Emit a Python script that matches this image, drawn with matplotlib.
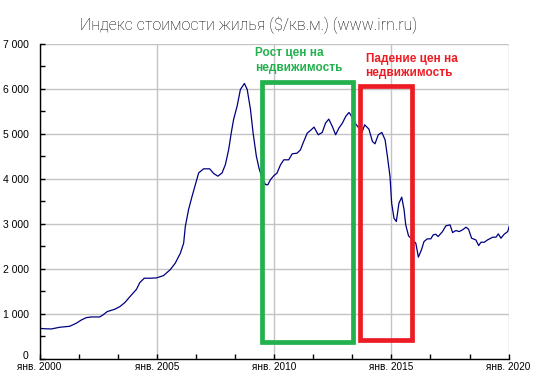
import matplotlib
matplotlib.use("Agg")
import matplotlib.pyplot as plt
from matplotlib.ticker import MultipleLocator, FuncFormatter
from matplotlib.patches import Rectangle

# ---- data ----
years = [2000.00, 2000.25, 2000.50, 2000.85, 2001.28, 2001.56, 2001.78, 2001.99, 2002.20, 2002.56,
         2002.70, 2002.88, 2003.20, 2003.42, 2003.63, 2003.85, 2004.13, 2004.27, 2004.46, 2004.70,
         2004.98, 2005.28, 2005.57, 2005.78, 2006.00, 2006.14, 2006.21, 2006.35, 2006.50, 2006.64,
         2006.78, 2006.99, 2007.25, 2007.42, 2007.60, 2007.78, 2007.92, 2008.06, 2008.17, 2008.27,
         2008.42, 2008.56, 2008.73, 2008.85, 2008.99, 2009.10, 2009.24, 2009.36, 2009.50, 2009.63,
         2009.73, 2009.84, 2009.98, 2010.12, 2010.27, 2010.41, 2010.62, 2010.77, 2010.98, 2011.12,
         2011.26, 2011.41, 2011.55, 2011.70, 2011.88, 2012.05, 2012.19, 2012.33, 2012.48, 2012.62,
         2012.76, 2012.91, 2013.05, 2013.19, 2013.26, 2013.47, 2013.75, 2013.86, 2014.04, 2014.19,
         2014.30, 2014.44, 2014.59, 2014.73, 2014.83, 2014.94, 2015.01, 2015.11, 2015.21, 2015.32,
         2015.44, 2015.54, 2015.61, 2015.73, 2015.90, 2016.04, 2016.15, 2016.28, 2016.39, 2016.53,
         2016.68, 2016.78, 2016.89, 2016.99, 2017.18, 2017.32, 2017.50, 2017.61, 2017.75, 2017.89,
         2018.03, 2018.18, 2018.29, 2018.42, 2018.60, 2018.72, 2018.82, 2018.96, 2019.10, 2019.32,
         2019.46, 2019.56, 2019.67, 2019.81, 2019.96, 2020.02]
prices = [680, 670, 667, 704, 726, 793, 867, 918, 933, 933,
          978, 1052, 1104, 1163, 1252, 1385, 1548, 1696, 1793, 1793,
          1800, 1851, 1984, 2127, 2349, 2571, 2940, 3318, 3614, 3873,
          4132, 4222, 4222, 4118, 4059, 4132, 4318, 4651, 5022, 5318,
          5614, 5984, 6118, 5984, 5540, 5022, 4503, 4222, 4000, 3873,
          3867, 3978, 4067, 4126, 4311, 4422, 4422, 4556, 4570, 4644,
          4830, 5015, 5074, 5148, 4978, 5030, 5237, 5326, 5163, 4978,
          5126, 5237, 5385, 5474, 5422, 5222, 5040, 5200, 5104, 4830,
          4778, 4978, 5030, 4867, 4496, 4052, 3459, 3126, 3052, 3459,
          3593, 3311, 2978, 2733, 2650, 2571, 2262, 2422, 2607, 2667,
          2667, 2755, 2770, 2718, 2829, 2955, 2978, 2807, 2852, 2829,
          2866, 2926, 2881, 2681, 2644, 2518, 2592, 2592, 2644, 2704,
          2704, 2778, 2681, 2770, 2829, 2940]

x_tick_years = [2000, 2005, 2010, 2015, 2020]
x_tick_labels = ["янв. 2000", "янв. 2005", "янв. 2010", "янв. 2015", "янв. 2020"]

# highlighted periods: (start year, end year, low value, high value)
growth_box = (2009.46, 2013.38, 380, 6140)
fall_box = (2013.65, 2015.87, 420, 6060)
growth_label = "Рост цен на\nнедвижимость"
fall_label = "Падение цен на\nнедвижимость"
title = "Индекс стоимости жилья ($/кв.м.) (www.irn.ru)"

# ---- figure ----
fig = plt.figure(figsize=(5.55, 3.72), dpi=100)
ax = fig.add_axes([0.0715, 0.035, 0.845, 0.8475])

ax.plot(years, prices, color="#000080", lw=0.9, zorder=3)

ax.set_xlim(2000, 2020)
ax.set_ylim(0, 7000)

grid_c = "#c4c4c4"
ax.set_xticks(x_tick_years)
ax.set_xticklabels(x_tick_labels)
ax.xaxis.set_minor_locator(MultipleLocator(5 / 3))
ax.yaxis.set_major_locator(MultipleLocator(1000))
ax.yaxis.set_minor_locator(MultipleLocator(500))


def fmt_thousands(v, p):
    if abs(v) < 1e-9:
        return ""  # the zero label is drawn separately, nudged up slightly
    return f"{v:,.0f}".replace(",", " ")


ax.yaxis.set_major_formatter(FuncFormatter(fmt_thousands))
ax.grid(True, which="major", color=grid_c, lw=1.0, zorder=0)

for s in ("top", "right"):
    ax.spines[s].set_visible(False)
for s in ("left", "bottom"):
    ax.spines[s].set_color("black")
    ax.spines[s].set_linewidth(1.0)
    ax.spines[s].set_zorder(4)

tick_font = ["Liberation Sans", "DejaVu Sans"]
ax.tick_params(axis="both", which="both", direction="in", length=3.5, width=1, color="black")
ax.tick_params(axis="y", which="major", pad=8, labelsize=7.5)
ax.tick_params(axis="x", which="major", pad=2, labelsize=7.2)
for lab in ax.get_xticklabels() + ax.get_yticklabels():
    lab.set_fontfamily(tick_font)

ax.annotate("0", xy=(0, 0), xycoords=("axes fraction", "data"), xytext=(-8, 2.5),
            textcoords="offset points", ha="right", va="center", fontsize=7.5,
            family=tick_font, annotation_clip=False)

# boxes
for box, col in ((growth_box, "#22b14c"), (fall_box, "#ed1c24")):
    x0, x1, y0, y1 = box
    ax.add_patch(Rectangle((x0, y0), x1 - x0, y1 - y0, fill=False, edgecolor=col,
                           lw=3.4, zorder=5, clip_on=False, joinstyle="miter"))

ax.text(2009.2, 6920, growth_label, color="#22b14c", fontsize=8.5, fontweight="bold",
        family=tick_font, ha="left", va="top", linespacing=1.3, zorder=6)
ax.text(2013.9, 6800, fall_label, color="#ed1c24", fontsize=8.5, fontweight="bold",
        family=tick_font, ha="left", va="top", linespacing=1.3, zorder=6)

fig.text(0.448, 0.932, title, ha="center", va="center", fontsize=11.5,
         family=["Roboto", "DejaVu Sans"], fontweight="light", color="black")

fig.savefig("out.png", dpi=100)
